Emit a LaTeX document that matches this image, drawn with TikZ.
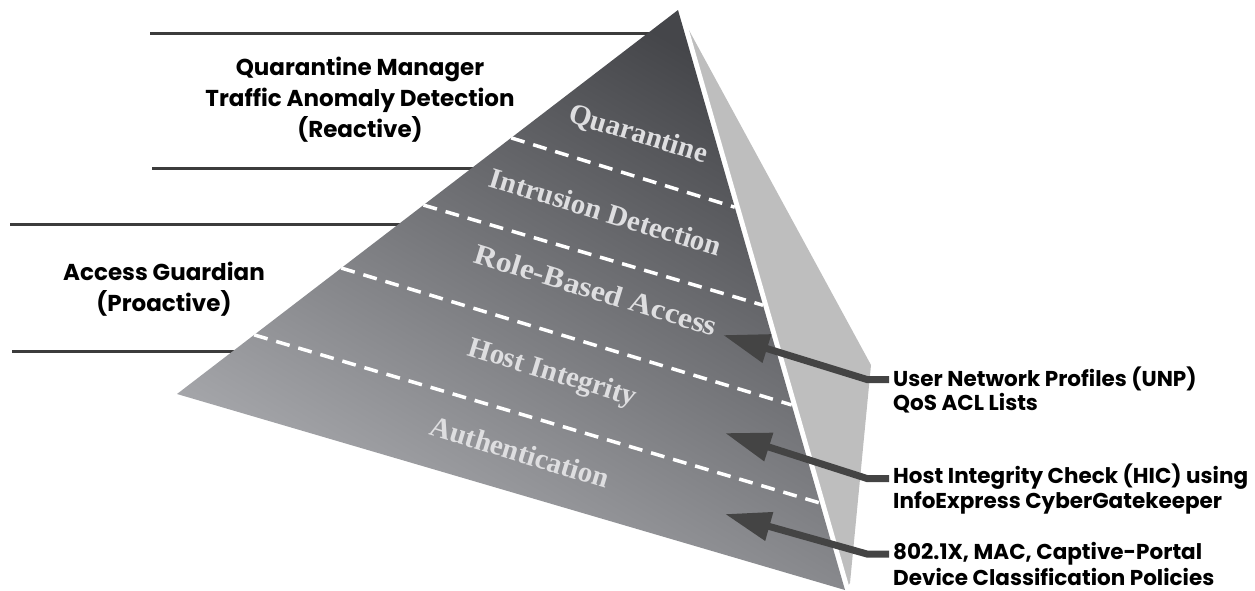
\documentclass[tikz,border=0pt]{standalone}
\usepackage{fontspec}
\newfontfamily\labfont{Poppins}
\newfontfamily\pyrfont{Liberation Serif}
\usetikzlibrary{arrows.meta,calc}
\definecolor{rulegray}{HTML}{3C3C3C}
\definecolor{arrowgray}{HTML}{444444}
\definecolor{sidegray}{HTML}{BEBEBE}
\definecolor{topgray}{HTML}{45464A}
\definecolor{botgray}{HTML}{AEAFB3}
\definecolor{pyrtext}{HTML}{DEDEE0}
\newcommand\lstrut{\rule[-3pt]{0pt}{22pt}}
\begin{document}
\begin{tikzpicture}[x=1pt,y=-1pt,
  rulestyle/.style={draw=rulegray,line width=3pt},
  layerline/.style={draw=white,line width=3.5pt,dash pattern=on 14pt off 9pt},
  layertext/.style={text=pyrtext,font=\pyrfont\bfseries\fontsize{29}{31}\selectfont,rotate=-17,inner sep=0},
  sidelabel/.style={font=\labfont\bfseries\fontsize{23}{31}\selectfont,align=center,inner sep=0},
  notelabel/.style={font=\labfont\bfseries\fontsize{21.5}{22}\selectfont,align=left,anchor=west,inner xsep=4pt,inner ysep=0},
  pointer/.style={draw=arrowgray,line width=7pt,-{Triangle[length=46pt,width=28pt]}}
]
\useasboundingbox (0,0) rectangle (1255,590);
\coordinate (A) at (678,10);
\coordinate (L) at (177,394);
\coordinate (R) at (845,590);
% side face
\fill[sidegray] (A) -- (871,365) -- (850,583) -- (R) -- cycle;
\draw[white,line width=10pt] ($(A)!-0.05!(R)$) -- ($(R)!-0.05!(A)$);
% horizontal rules
\draw[rulestyle] (150,33) -- (660,33);
\draw[rulestyle] (152,168) -- (480,168);
\draw[rulestyle] (10,224) -- (410,224);
\draw[rulestyle] (12,351) -- (245,351);
% front face
\shade[top color=topgray,bottom color=botgray,shading angle=-30] (A) -- (L) -- (R) -- cycle;
% layer boundaries
\draw[layerline] ($(A)!0.333!(L)$) -- ($(A)!0.340!(R)$);
\draw[layerline] ($(A)!0.508!(L)$) -- ($(A)!0.509!(R)$);
\draw[layerline] ($(A)!0.672!(L)$) -- ($(A)!0.681!(R)$);
\draw[layerline] ($(A)!0.846!(L)$) -- ($(A)!0.850!(R)$);
% layer names
\node[layertext] (lq) at (638,135) {Quarantine};
\node[layertext] (li) at (606,212) {Intrusion Detection};
\node[layertext] (lr) at (596,290) {\scalebox{1.1}[1]{Role-Based Access}};
\node[layertext] (lh) at (552,374) {Host Integrity};
\node[layertext] (la) at (520,452) {Authentication};
% left labels
\node[sidelabel] (qm) at (360,100) {Quarantine Manager\\Traffic Anomaly Detection\\(Reactive)};
\node[sidelabel] (ag) at (164,289) {Access Guardian\\(Proactive)};
% right labels
\node[notelabel] (unp) at (889,390) {\lstrut User Network Profiles (UNP)\\\lstrut QoS ACL Lists};
\node[notelabel] (hic) at (889,489) {\lstrut Host Integrity Check (HIC) using\\\lstrut InfoExpress CyberGatekeeper};
\node[notelabel] (dot) at (889,564.5) {\lstrut 802.1X, MAC, Captive-Portal\\\lstrut Device Classification Policies};
% pointers
\coordinate (k1) at (867,379.5);
\coordinate (t1) at (723,335);
\coordinate (k2) at (867,478.5);
\coordinate (t2) at (725,433);
\coordinate (k3) at (867,554);
\coordinate (t3) at (725,514);
\draw[pointer] ([yshift=10.5pt]unp.west) -- (k1) -- (t1);
\draw[pointer] ([yshift=10.5pt]hic.west) -- (k2) -- (t2);
\draw[pointer] ([yshift=10.5pt]dot.west) -- (k3) -- (t3);
\end{tikzpicture}
\end{document}
